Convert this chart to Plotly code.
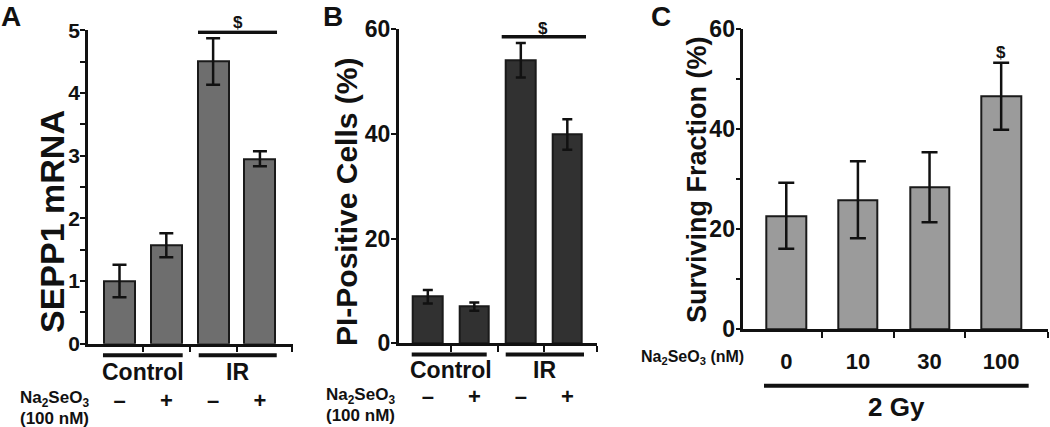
import plotly.graph_objects as go

# ---------------- data ----------------
a_x = [0, 1, 2, 3]
a_labels = ["–", "+", "–", "+"]
a_values = [1.0, 1.57, 4.50, 2.95]
a_errors = [0.26, 0.19, 0.37, 0.12]

b_x = [0, 1, 2, 3]
b_labels = ["–", "+", "–", "+"]
b_values = [8.9, 7.0, 54.1, 39.9]
b_errors = [1.3, 0.8, 3.3, 2.9]

c_x = [0, 1, 2, 3]
c_labels = ["0", "10", "30", "100"]
c_values = [22.7, 25.9, 28.4, 46.6]
c_errors = [6.6, 7.7, 7.0, 6.7]

groups = ["Control", "IR"]
a_sig = 4.966
b_sig = 58.6

FONT = "Liberation Sans, Arial, sans-serif"
W, H = 1050, 427


def px_x(p):
    return p / W


def px_y(p):
    return (H - p) / H


fig = go.Figure()

fig.add_trace(go.Bar(
    x=a_x, y=a_values, width=0.66, xaxis="x", yaxis="y",
    marker=dict(color="#6e6e6e", line=dict(color="#1a1a1a", width=2)),
    error_y=dict(type="data", array=a_errors, color="#111111", thickness=2.5, width=7),
    showlegend=False,
))
fig.add_trace(go.Bar(
    x=b_x, y=b_values, width=0.63, xaxis="x2", yaxis="y2",
    marker=dict(color="#313131", line=dict(color="#1a1a1a", width=2)),
    error_y=dict(type="data", array=b_errors, color="#111111", thickness=2.5, width=5),
    showlegend=False,
))
fig.add_trace(go.Bar(
    x=c_x, y=c_values, width=0.55, xaxis="x3", yaxis="y3",
    marker=dict(color="#9b9b9b", line=dict(color="#1a1a1a", width=2)),
    error_y=dict(type="data", array=c_errors, color="#111111", thickness=2.5, width=8),
    showlegend=False,
))

axis_common = dict(showline=True, linecolor="#111111", linewidth=2.5, showgrid=False,
                   zeroline=False, fixedrange=True, automargin=False)


def bold(size):
    return dict(family=FONT, size=size, color="#111111", weight="bold")


def xaxis(domain, rng, labels, ticklen, minor_vals, size, anchor):
    return dict(axis_common, domain=domain, range=rng, tickmode="array",
                tickvals=[0, 1, 2, 3], ticktext=["<b>%s</b>" % t for t in labels],
                ticks="outside", ticklen=ticklen, tickcolor="rgba(0,0,0,0)", tickwidth=1,
                tickfont=bold(size), anchor=anchor,
                minor=dict(tickmode="array", tickvals=minor_vals, ticks="outside",
                           ticklen=6, tickwidth=2, tickcolor="#111111"))


def yaxis(domain, rng, dtick, minor_dtick, anchor, size):
    d = dict(axis_common, domain=domain, range=rng, dtick=dtick, tick0=0,
             ticks="outside", ticklen=5, tickwidth=2, tickcolor="#111111",
             tickfont=bold(size), tickprefix="<b>", ticksuffix="</b>",
             ticklabelstandoff=-4, anchor=anchor)
    if minor_dtick:
        d["minor"] = dict(dtick=minor_dtick, ticks="outside", ticklen=5, tickwidth=2,
                          tickcolor="#111111")
    return d


fig.update_layout(
    template="none",
    width=W, height=H, margin=dict(l=0, r=0, t=0, b=0, autoexpand=False),
    paper_bgcolor="white", plot_bgcolor="white",
    font=dict(family=FONT, color="#111111"),
    bargap=0,
    xaxis=xaxis([px_x(88), px_x(292.7)], [-0.673, 3.70], a_labels, 35,
                [0.5, 1.5, 2.5, 3.69], 22, "y"),
    yaxis=yaxis([px_y(343.7), px_y(30.2)], [0, 5], 1, 0.5, "x", 21),
    xaxis2=xaxis([px_x(398.7), px_x(597.3)], [-0.626, 3.645], b_labels, 32,
                 [0.5, 1.5, 2.5, 3.635], 22, "y2"),
    yaxis2=yaxis([px_y(343.3), px_y(29.3)], [0, 60], 20, None, "x2", 23),
    xaxis3=xaxis([px_x(743.3), px_x(1048.3)], [-0.600, 3.658], c_labels, 11,
                 [0.5, 1.5, 2.5, 3.648], 22, "y3"),
    yaxis3=yaxis([px_y(329.3), px_y(29.3)], [0, 60], 20, 10, "x3", 23),
)

shapes = []
line_style = dict(color="#111111", width=4)
# group lines under panels A and B
shapes.append(dict(type="line", xref="x", yref="paper", x0=-0.353, x1=1.35,
                   y0=px_y(355.3), y1=px_y(355.3), line=line_style))
shapes.append(dict(type="line", xref="x", yref="paper", x0=1.692, x1=3.359,
                   y0=px_y(355.3), y1=px_y(355.3), line=line_style))
shapes.append(dict(type="line", xref="x2", yref="paper", x0=-0.346, x1=1.267,
                   y0=px_y(354.5), y1=px_y(354.5), line=line_style))
shapes.append(dict(type="line", xref="x2", yref="paper", x0=1.675, x1=3.359,
                   y0=px_y(354.5), y1=px_y(354.5), line=line_style))
# 2 Gy line in C
shapes.append(dict(type="line", xref="x3", yref="paper", x0=-0.311, x1=3.384,
                   y0=px_y(385.7), y1=px_y(385.7), line=line_style))
# significance lines
shapes.append(dict(type="line", xref="x", yref="y", x0=1.677, x1=3.365,
                   y0=a_sig, y1=a_sig, line=dict(color="#111111", width=3.5)))
shapes.append(dict(type="line", xref="x2", yref="y2", x0=1.589, x1=3.402,
                   y0=b_sig, y1=b_sig, line=dict(color="#111111", width=3.5)))
fig.update_layout(shapes=shapes)


def note(text, x, y, size, xref="paper", yref="paper", angle=0, xanchor="center"):
    return dict(text="<b>%s</b>" % text, x=x, y=y, xref=xref, yref=yref,
                xanchor=xanchor, yanchor="middle", textangle=angle,
                showarrow=False, font=bold(size))


ann = []
# panel letters
ann.append(note("A", px_x(11), px_y(16), 28))
ann.append(note("B", px_x(333), px_y(16), 28))
ann.append(note("C", px_x(661), px_y(16), 28))
# y titles
ann.append(note("SEPP1 mRNA", px_x(52), px_y(222), 34, angle=-90))
ann.append(note("PI-Positive Cells (%)", px_x(346), px_y(202), 30, angle=-90))
ann.append(note("Surviving Fraction (%)", px_x(697), px_y(180), 27, angle=-90))
# group labels
ann.append(note(groups[0], 0.5, px_y(372), 23, xref="x"))
ann.append(note(groups[1], 2.52, px_y(372), 23, xref="x"))
ann.append(note(groups[0], 0.5, px_y(370), 23, xref="x2"))
ann.append(note(groups[1], 2.52, px_y(370), 23, xref="x2"))
ann.append(note("2 Gy", 1.541, px_y(407), 26, xref="x3"))
# treatment labels
for cx, cy1, cy2 in [(54, 399, 418), (360, 396, 415)]:
    ann.append(note("Na<sub>2</sub>SeO<sub>3</sub>", px_x(cx), px_y(cy1), 17))
    ann.append(note("(100 nM)", px_x(cx), px_y(cy2), 17))
ann.append(note("Na<sub>2</sub>SeO<sub>3</sub> (nM)", px_x(746), px_y(357), 16,
                xanchor="right"))
# significance markers
ann.append(note("$", 2.54, 1.023, 17, xref="x", yref="y domain"))
ann.append(note("$", 2.484, 1.004, 17, xref="x2", yref="y2 domain"))
ann.append(note("$", 3, 55.3, 17, xref="x3", yref="y3"))
fig.update_layout(annotations=ann)

fig.write_html(
    "out.html",
    config={"displayModeBar": False},
    post_script="document.body.style.margin='0px';"
                "document.documentElement.style.overflow='hidden';",
)
